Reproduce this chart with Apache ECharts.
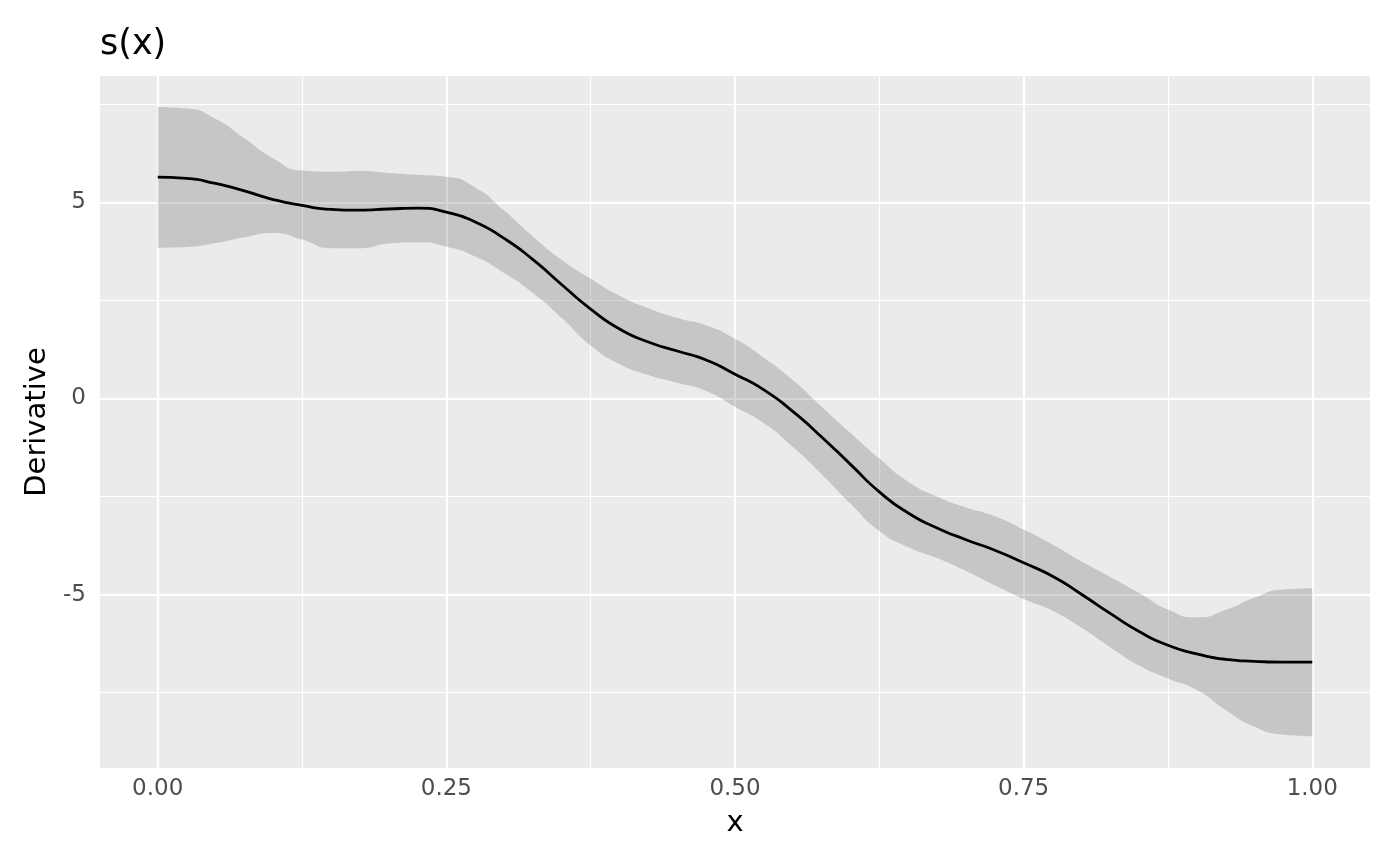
<!DOCTYPE html>
<html>
<head>
<meta charset="utf-8">
<script src="https://cdn.jsdelivr.net/npm/echarts@6/dist/echarts.min.js"></script>
<style>
html,body{margin:0;padding:0;background:#fff;}
#chart{width:1400px;height:866px;}
</style>
</head>
<body>
<div id="chart"></div>
<script>
var xs = [0.000,0.025,0.050,0.075,0.100,0.125,0.150,0.175,0.200,0.225,0.250,0.275,0.300,0.325,0.350,0.375,0.400,0.425,0.450,0.475,0.500,0.525,0.550,0.575,0.600,0.625,0.650,0.675,0.700,0.725,0.750,0.775,0.800,0.825,0.850,0.875,0.900,0.925,0.950,0.975,1.000];
var fit = [5.64,5.61,5.48,5.29,5.07,4.92,4.82,4.80,4.83,4.85,4.75,4.50,4.08,3.54,2.90,2.28,1.77,1.44,1.21,0.98,0.62,0.22,-0.33,-0.98,-1.68,-2.38,-2.92,-3.30,-3.60,-3.87,-4.19,-4.53,-4.99,-5.48,-5.94,-6.29,-6.51,-6.65,-6.70,-6.72,-6.72];
var upper = [7.43,7.39,7.13,6.63,6.12,5.81,5.78,5.80,5.75,5.70,5.65,5.38,4.79,4.13,3.53,3.05,2.62,2.30,2.05,1.86,1.52,1.04,0.47,-0.21,-0.88,-1.53,-2.12,-2.50,-2.78,-3.00,-3.34,-3.72,-4.15,-4.55,-4.96,-5.38,-5.58,-5.39,-5.08,-4.87,-4.84];
var lower = [3.84,3.86,3.96,4.11,4.22,4.05,3.83,3.83,3.95,3.98,3.87,3.62,3.20,2.69,2.05,1.35,0.88,0.60,0.40,0.19,-0.21,-0.63,-1.23,-1.93,-2.68,-3.38,-3.79,-4.07,-4.40,-4.76,-5.11,-5.41,-5.84,-6.34,-6.81,-7.14,-7.43,-7.94,-8.37,-8.57,-8.61];
var xMajor = [0, 0.25, 0.5, 0.75, 1];
var xMinor = [0.125, 0.375, 0.625, 0.875];
var yMajor = [-5, 0, 5];
var yMinor = [-7.5, -2.5, 2.5, 7.5];

var FONT = 'DejaVu Sans';
var chart = echarts.init(document.getElementById('chart'), null, {renderer: 'canvas'});

var gridLines = [];
xMinor.forEach(function (v) { gridLines.push({xAxis: v, lineStyle: {width: 1.1}}); });
yMinor.forEach(function (v) { gridLines.push({yAxis: v, lineStyle: {width: 1.1}}); });
xMajor.forEach(function (v) { gridLines.push({xAxis: v, lineStyle: {width: 2.2}}); });
yMajor.forEach(function (v) { gridLines.push({yAxis: v, lineStyle: {width: 2.2}}); });

// y value first so that the stack is applied on the y dimension
var lowerData = xs.map(function (x, i) { return [lower[i], x]; });
var spanData = xs.map(function (x, i) { return [+(upper[i] - lower[i]).toFixed(4), x]; });

var option = {
  animation: false,
  backgroundColor: '#FFFFFF',
  textStyle: {fontFamily: FONT},
  title: {
    text: 's(x)',
    left: 100, top: 27, padding: 0,
    textStyle: {fontFamily: FONT, fontSize: 35, fontWeight: 'normal', color: '#000000'}
  },
  grid: {
    left: 100, right: 30, top: 76, bottom: 98,
    show: true, backgroundColor: '#EBEBEB', borderWidth: 0,
    containLabel: false
  },
  xAxis: {
    type: 'value', min: -0.05, max: 1.05,
    axisLine: {show: false},
    axisTick: {show: true, customValues: xMajor, length: 7, lineStyle: {color: '#333333', width: 2}},
    axisLabel: {customValues: xMajor, formatter: function (v) { return v.toFixed(2); },
      color: '#4D4D4D', fontSize: 23, margin: 10, fontFamily: FONT},
    splitLine: {show: false},
    name: 'x', nameLocation: 'middle', nameGap: 41,
    nameTextStyle: {fontFamily: FONT, fontSize: 29, color: '#000000'}
  },
  yAxis: {
    type: 'value', min: -9.42, max: 8.22,
    axisLine: {show: false},
    axisTick: {show: true, customValues: yMajor, length: 7, lineStyle: {color: '#333333', width: 2}},
    axisLabel: {customValues: yMajor, formatter: function (v) { return String(v); },
      color: '#4D4D4D', fontSize: 23, margin: 14, fontFamily: FONT},
    splitLine: {show: false},
    name: 'Derivative', nameLocation: 'middle', nameGap: 44,
    nameTextStyle: {fontFamily: FONT, fontSize: 29, color: '#000000'}
  },
  series: [
    {
      name: 'grid', type: 'line', data: [], z: 1, silent: true,
      markLine: {
        silent: true, z: 1, symbol: ['none', 'none'], animation: false, precision: 6,
        label: {show: false},
        lineStyle: {color: '#FFFFFF', type: 'solid', opacity: 1},
        emphasis: {disabled: true},
        data: gridLines
      }
    },
    {
      name: 'lower', type: 'line', stack: 'ci', stackStrategy: 'all', z: 3,
      data: lowerData, encode: {x: 1, y: 0},
      smooth: 0.6, showSymbol: false, symbol: 'none', silent: true,
      lineStyle: {opacity: 0, width: 0}
    },
    {
      name: 'band', type: 'line', stack: 'ci', stackStrategy: 'all', z: 3,
      data: spanData, encode: {x: 1, y: 0},
      smooth: 0.6, showSymbol: false, symbol: 'none', silent: true,
      lineStyle: {opacity: 0, width: 0},
      areaStyle: {color: 'rgba(51,51,51,0.2)', opacity: 1}
    },
    {
      name: 'fit', type: 'line', z: 4,
      data: xs.map(function (x, i) { return [x, fit[i]]; }),
      smooth: 0.6, showSymbol: false, symbol: 'none', silent: true,
      lineStyle: {color: '#000000', width: 2.8}
    }
  ]
};
chart.setOption(option);
</script>
</body>
</html>
